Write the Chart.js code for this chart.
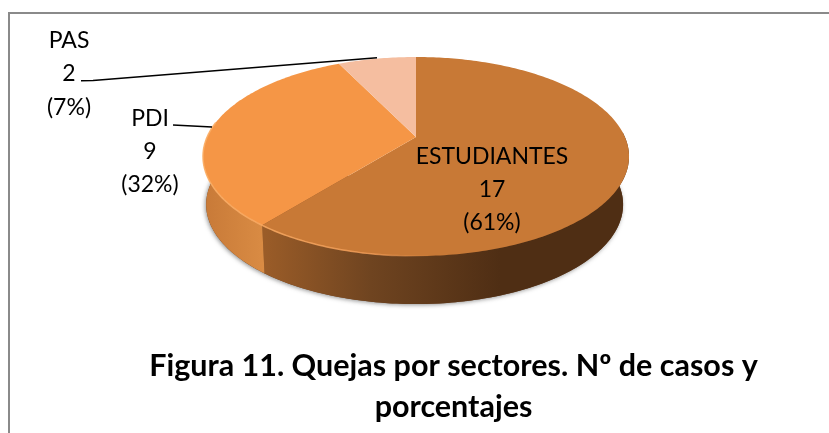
<!DOCTYPE html>
<html><head><meta charset="utf-8">
<style>html,body{margin:0;padding:0;background:#fff}#wrap{position:absolute;left:0;top:0;width:829px;height:433px}</style>
<script src="https://cdn.jsdelivr.net/npm/chart.js@4"></script>
</head><body><div id="wrap"><canvas id="c" width="829" height="433"></canvas></div>
<script>
const categories = ['ESTUDIANTES', 'PDI', 'PAS'];
const caseCounts = [17, 9, 2];
const percentLabels = ['(61%)', '(32%)', '(7%)'];
const sliceColors = ['#c87936', '#f59646', '#f5bea0'];
const titleLines = ['Figura 11. Quejas por sectores. Nº de casos y', 'porcentajes'];

// projection of the flat pie into its tilted view
const VIEW = {cx: 416, cy: 137, a: 208.9, b: 95.7, k: -0.196, depth: 48, shrinkLeft: 0.985, shrinkRight: 0.972};
function project(theta, lower) {
  const u = Math.cos(theta), v = Math.sin(theta), w = 1 + VIEW.k * v;
  let x = VIEW.cx + VIEW.a * u / w, y = VIEW.cy + VIEW.b * v / w;
  if (lower) {
    x = VIEW.cx + (x - VIEW.cx) * (x > VIEW.cx ? VIEW.shrinkRight : VIEW.shrinkLeft);
    y += VIEW.depth;
  }
  return [x, y];
}
function trace(ctx, a0, a1, lower, first) {
  const n = Math.max(4, Math.ceil(Math.abs(a1 - a0) * 60));
  for (let i = 0; i <= n; i++) {
    const p = project(a0 + (a1 - a0) * i / n, lower);
    if (i === 0 && first) ctx.moveTo(p[0], p[1]); else ctx.lineTo(p[0], p[1]);
  }
}
const wallStops = [
  [[0, '#9a5c28'], [0.45, '#6f4420'], [1, '#4f2e14']],
  [[0, '#c87a38'], [1, '#da8c44']],
];
const wallRange = [[265, 500], [205, 266]];

const pie3d = {
  id: 'pie3d',
  beforeDraw(chart) {
    const ctx = chart.ctx;
    ctx.save();
    ctx.strokeStyle = '#8a8a8a';
    ctx.lineWidth = 2;
    ctx.beginPath();
    ctx.moveTo(9, 434); ctx.lineTo(9, 13); ctx.lineTo(829, 13);
    ctx.stroke();
    ctx.restore();
  },
  beforeDatasetDraw(chart, args) {
    const ctx = chart.ctx, arcs = args.meta.data;
    const PI = Math.PI;
    ctx.save();
    // soft shadow below the wall
    ctx.save();
    ctx.shadowColor = 'rgba(60,60,60,0.55)';
    ctx.shadowBlur = 4; ctx.shadowOffsetX = -1; ctx.shadowOffsetY = 1;
    ctx.fillStyle = '#6a4020';
    ctx.beginPath();
    trace(ctx, -0.05, PI + 0.12, true, true);
    ctx.closePath(); ctx.fill();
    ctx.restore();
    // walls of the front slices
    arcs.forEach((arc, i) => {
      if (!wallStops[i]) return;
      const s = arc.startAngle, e = Math.min(arc.endAngle, PI + 0.12);
      const a0 = Math.max(s, -0.05), a1 = e;
      const g = ctx.createLinearGradient(wallRange[i][0], 0, wallRange[i][1], 0);
      wallStops[i].forEach(t => g.addColorStop(t[0], t[1]));
      ctx.fillStyle = g;
      ctx.beginPath();
      trace(ctx, a0, a1, false, true);
      trace(ctx, a1, a0, true, false);
      ctx.closePath(); ctx.fill();
    });
    // top face
    arcs.forEach((arc, i) => {
      ctx.fillStyle = arc.options.backgroundColor;
      ctx.beginPath();
      ctx.moveTo(VIEW.cx, VIEW.cy);
      trace(ctx, arc.startAngle, arc.endAngle, false, false);
      ctx.closePath(); ctx.fill();
    });
    // bevel highlight along the front rim
    const rim = ctx.createLinearGradient(205, 0, 430, 0);
    rim.addColorStop(0, 'rgba(252,176,104,0.9)');
    rim.addColorStop(0.75, 'rgba(246,160,90,0.8)');
    rim.addColorStop(1, 'rgba(246,160,90,0)');
    ctx.strokeStyle = rim; ctx.lineWidth = 1.5;
    ctx.beginPath();
    trace(ctx, PI * 0.45, PI * 1.05, false, true);
    ctx.stroke();
    ctx.restore();
    return false; // the tilted faces above replace the flat draw
  },
  afterDraw(chart) {
    const ctx = chart.ctx;
    const fontFace = '"Lato","Open Sans",sans-serif';
    // leader lines
    ctx.save();
    ctx.strokeStyle = '#000'; ctx.lineWidth = 1.6; ctx.lineJoin = 'round';
    ctx.beginPath(); ctx.moveTo(81, 80.7); ctx.lineTo(93, 80.5); ctx.lineTo(377, 57.7); ctx.stroke();
    ctx.beginPath(); ctx.moveTo(173, 125); ctx.lineTo(212, 127); ctx.stroke();
    // labels
    ctx.fillStyle = '#000'; ctx.textAlign = 'center'; ctx.textBaseline = 'alphabetic';
    const places = [[492, 164, 197, 230], [150, 126, 159, 192], [69, 48, 81, 115]];
    categories.forEach((name, i) => {
      const p = places[i];
      ctx.font = '23px ' + fontFace;
      ctx.fillText(name, p[0], p[1]);
      ctx.fillText(String(caseCounts[i]), p[0], p[2]);
      ctx.fillText(percentLabels[i], p[0], p[3]);
    });
    ctx.restore();
  }
};

new Chart(document.getElementById('c'), {
  type: 'pie',
  data: {labels: categories, datasets: [{data: caseCounts, backgroundColor: sliceColors, borderWidth: 0}]},
  options: {
    responsive: false, animation: false,
    layout: {padding: {bottom: 6, left: 78}},
    plugins: {
      legend: {display: false}, tooltip: {enabled: false},
      title: {display: true, position: 'bottom', text: titleLines, color: '#000',
        font: {family: '"Lato","Open Sans",sans-serif', size: 30.5, weight: 'bold', lineHeight: 1.32},
        padding: 0, align: 'center'}
    }
  },
  plugins: [pie3d]
});
</script></body></html>
